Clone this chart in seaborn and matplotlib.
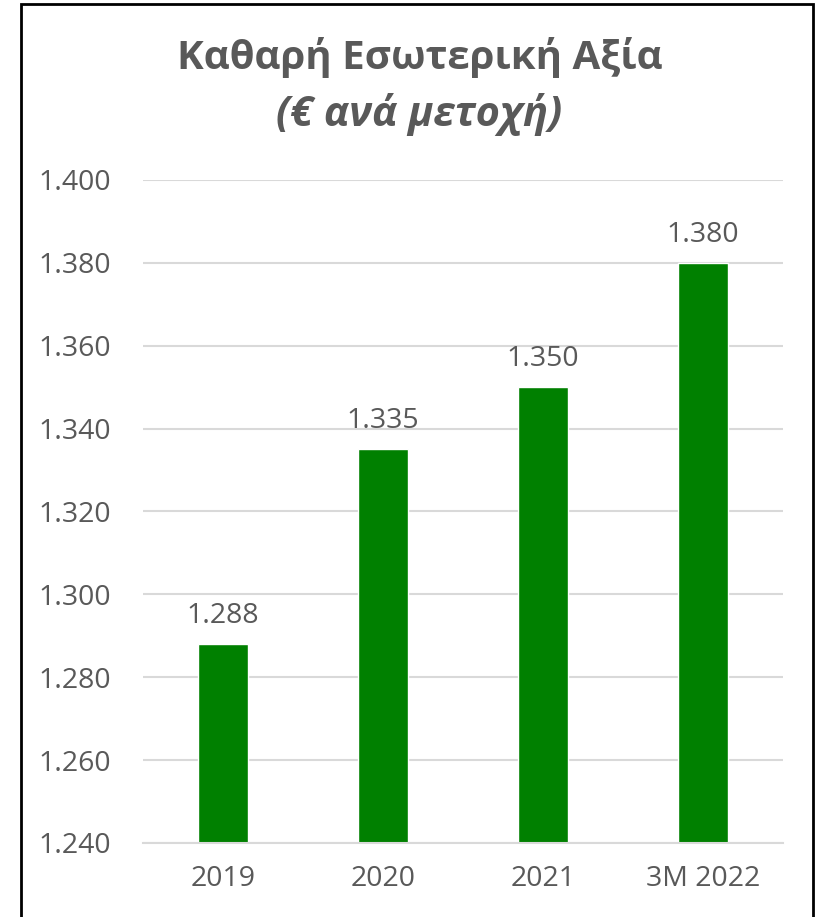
import matplotlib
matplotlib.use("Agg")
import matplotlib.pyplot as plt
import seaborn as sns
import pandas as pd
from matplotlib.patches import Rectangle
from matplotlib.ticker import FuncFormatter

categories = ["2019", "2020", "2021", "3M 2022"]
values = [1.288, 1.335, 1.350, 1.380]
yticks = [1.240, 1.260, 1.280, 1.300, 1.320, 1.340, 1.360, 1.380, 1.400]

sns.set_theme(style="white")
plt.rcParams['font.family'] = ['Open Sans', 'DejaVu Sans']

TXT = '#595959'
GREEN = '#008000'

df = pd.DataFrame({"cat": categories, "val": values})

fig = plt.figure(figsize=(8.19, 9.17), dpi=100)
ax = fig.add_axes([143/819, 1-843/917, (783-143)/819, (843-180)/917])

sns.barplot(data=df, x="cat", y="val", color=GREEN, saturation=1, width=0.31, ax=ax)

ax.set_ylim(1.240, 1.400)
ax.set_yticks(yticks)
ax.yaxis.set_major_formatter(FuncFormatter(lambda v, p: f"{v:.3f}"))
ax.set_xlim(-0.5, len(categories) - 0.5)
ax.grid(axis='y', color='#d9d9d9', linewidth=1.5)
ax.set_axisbelow(True)
for s in ['top', 'right', 'left']:
    ax.spines[s].set_visible(False)
ax.spines['bottom'].set_color('#d9d9d9')
ax.spines['bottom'].set_linewidth(1.5)
ax.set_xlabel("")
ax.set_ylabel("")
ax.tick_params(axis='y', length=0, labelsize=20.5, labelcolor=TXT, pad=23)
ax.tick_params(axis='x', length=0, labelsize=20.5, labelcolor=TXT, pad=16)
# minor ticks at category boundaries
ax.set_xticks([i - 0.5 for i in range(len(categories) + 1)], minor=True)
ax.tick_params(axis='x', which='minor', length=9, width=1.5, color='#d9d9d9')

for c in ax.containers:
    ax.bar_label(c, labels=[f"{v:.3f}" for v in values], padding=10, fontsize=20.5, color=TXT)

fig.text(0.512, 1-57/917, "Καθαρή Εσωτερική Αξία", ha='center', va='center',
         fontsize=29, fontweight='bold', color=TXT)
fig.text(0.512, 1-114/917, "(€ ανά μετοχή)", ha='center', va='center',
         fontsize=30, fontweight='bold', style='italic', color=TXT)

fig.patches.append(Rectangle((21/819, -0.01), (813-21)/819, 1.01 - 4/917,
                             transform=fig.transFigure, fill=False,
                             edgecolor='black', linewidth=2))

fig.savefig("out.png", dpi=100)
